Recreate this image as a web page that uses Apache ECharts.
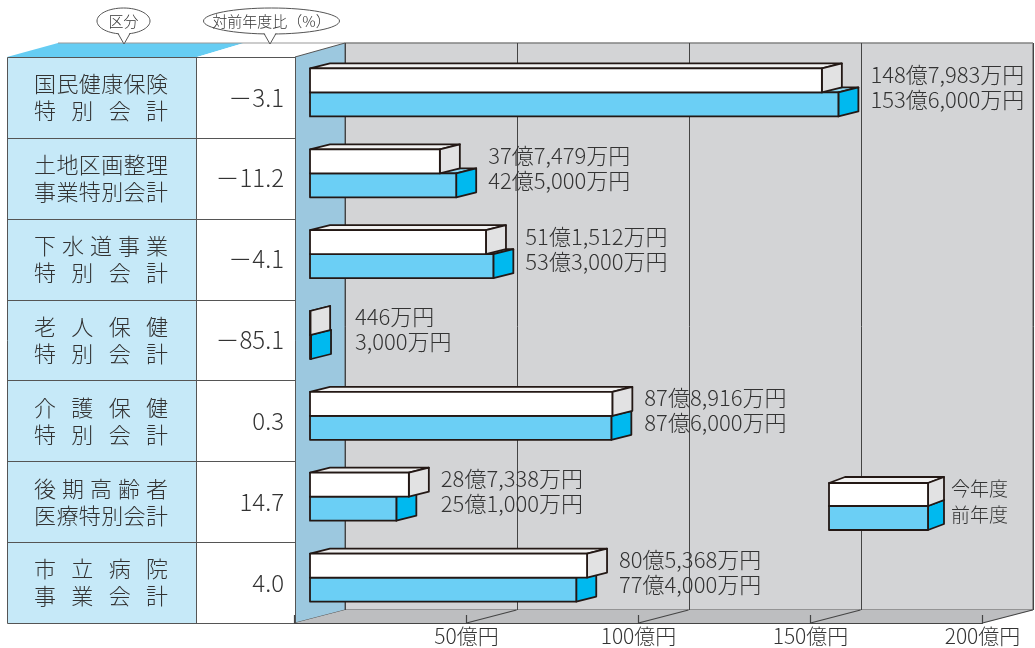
<!DOCTYPE html>
<html><head><meta charset="utf-8">
<script src="https://cdn.jsdelivr.net/npm/echarts@6/dist/echarts.min.js"></script>
<style>html,body{margin:0;padding:0;background:#fff}#c{width:1035px;height:648px}</style>
</head><body><div id="c"></div>
<script>
// ---- data ----
const catLine1 = ['国民健康保険','土地区画整理','下水道事業','老人保健','介護保健','後期高齢者','市立病院'];
const catLine2 = ['特別会計','事業特別会計','特別会計','特別会計','特別会計','医療特別会計','事業会計'];
const currentYear = [1487983, 377479, 511512, 446, 878916, 287338, 805368];   // 万円
const previousYear = [1536000, 425000, 533000, 3000, 876000, 251000, 774000]; // 万円
const changeRate = [-3.1, -11.2, -4.1, -85.1, 0.3, 14.7, 4.0];
const axisTicks = [50, 100, 150, 200];
const axisUnit = '億円';
const legendNames = ['今年度', '前年度'];
const headers = ['区分', '対前年度比（%）'];

// ---- layout/style ----
const FONT = '"Noto Sans CJK JP","Noto Sans",sans-serif';
const FW = 300;
const TXT = '#333333';
const OUT = '#231815';
const LW = 1.8;
const TOP = 57, BOT = 623, NR = catLine1.length, RH = (BOT - TOP) / NR;
const WHITE = ['#ffffff', '#f1f1f1', '#e2e2e3'];
const BLUE = ['#6bcff5', '#8fdaf5', '#00b9ef'];
const DX = 20, DY = -5;

function fmtMan(v) {
  const oku = Math.floor(v / 10000), man = v % 10000;
  const m = man.toLocaleString('en-US');
  return oku > 0 ? oku + '億' + m + '万円' : m + '万円';
}

function box(x0, x1, top, bot, col, dx, dy) {
  const st = (f) => ({ fill: f, stroke: OUT, lineWidth: LW, lineJoin: 'round' });
  return [
    { type: 'polygon', shape: { points: [[x0, top], [x1, top], [x1 + dx, top + dy], [x0 + dx, top + dy]] }, style: st(col[1]) },
    { type: 'polygon', shape: { points: [[x1, top], [x1 + dx, top + dy], [x1 + dx, bot + dy], [x1, bot]] }, style: st(col[2]) },
    { type: 'rect', shape: { x: x0, y: top, width: Math.max(x1 - x0, 0.5), height: bot - top }, style: st(col[0]) }
  ];
}

function barRender(col, dy0, dy1, withLabel) {
  return function (params, api) {
    const v = api.value(0), cat = api.value(1);
    const p0 = api.coord([0, cat]), p1 = api.coord([v, cat]);
    const c = p0[1];
    const children = box(p0[0], p1[0], c + dy0, c + dy1, col, DX, DY);
    if (withLabel) {
      const i = params.dataIndex;
      const mx = Math.max(currentYear[i], previousYear[i]) / 10000;
      const pm = api.coord([mx, cat]);
      const lx = Math.max(pm[0] + DX + 12, p0[0] + 45);
      children.push({ type: 'text', style: { text: fmtMan(currentYear[i]), x: lx, y: c - 23, fill: TXT, fontSize: 22, fontWeight: FW, fontFamily: FONT, align: 'left', verticalAlign: 'middle' } });
      children.push({ type: 'text', style: { text: fmtMan(previousYear[i]), x: lx, y: c + 2, fill: TXT, fontSize: 22, fontWeight: FW, fontFamily: FONT, align: 'left', verticalAlign: 'middle' } });
    }
    return { type: 'group', children };
  };
}

// ---- static graphics (table, walls, bubbles, legend) ----
const g = [];
g.push({ type: 'polygon', z: -1, shape: { points: [[7, TOP], [197, TOP], [244, 43], [58, 43]] }, style: { fill: '#66cdf3' } });
g.push({ type: 'polygon', z: -1, shape: { points: [[197, TOP], [295, TOP], [345, 43], [244, 43]] }, style: { fill: '#ffffff' } });
g.push({ type: 'line', z: -1, shape: { x1: 58, y1: 43, x2: 1033, y2: 43 }, style: { stroke: '#9a9a9a', lineWidth: 1.2 } });
g.push({ type: 'polygon', z: -1, shape: { points: [[295, TOP], [345, 43], [345, 610], [295, BOT]] }, style: { fill: '#9cc8df', stroke: '#555', lineWidth: 1 } });
g.push({ type: 'polygon', z: -1, shape: { points: [[295, BOT], [345, 610], [1033, 610], [983, BOT]] }, style: { fill: '#bdbec0' } });
g.push({ type: 'rect', z: -1, shape: { x: 7, y: TOP, width: 189, height: BOT - TOP }, style: { fill: '#c6e9f8' } });
g.push({ type: 'rect', z: -1, shape: { x: 196, y: TOP, width: 99, height: BOT - TOP }, style: { fill: '#ffffff' } });
for (let i = 1; i < NR; i++) {
  const y = Math.round(TOP + i * RH) + 0.5;
  g.push({ type: 'line', z: 0, shape: { x1: 7, y1: y, x2: 295, y2: y }, style: { stroke: '#555', lineWidth: 1 } });
}
g.push({ type: 'line', z: 0, shape: { x1: 196.5, y1: TOP, x2: 196.5, y2: BOT }, style: { stroke: '#555', lineWidth: 1 } });
g.push({ type: 'rect', z: 0, shape: { x: 7.5, y: TOP + 0.5, width: 288, height: BOT - TOP }, style: { fill: 'none', stroke: '#555', lineWidth: 1 } });
const L = 34, R = 168, FS = 22;
for (let i = 0; i < NR; i++) {
  const c = TOP + (i + 0.5) * RH;
  [catLine1[i], catLine2[i]].forEach((s, k) => {
    const chars = Array.from(s), n = chars.length;
    const y = c + (k === 0 ? -13.5 : 13.5);
    chars.forEach((ch, j) => {
      const x = n > 1 ? (L + FS / 2) + j * ((R - L - FS) / (n - 1)) : (L + R) / 2;
      g.push({ type: 'text', z: 1, style: { text: ch, x, y, fill: TXT, fontSize: FS, fontWeight: FW, fontFamily: FONT, align: 'center', verticalAlign: 'middle' } });
    });
  });
  const r = changeRate[i];
  const t = (r < 0 ? '－' : '') + Math.abs(r).toFixed(1);
  g.push({ type: 'text', z: 1, style: { text: t, x: 284, y: c, fill: TXT, fontSize: 24, fontWeight: FW, fontFamily: FONT, align: 'right', verticalAlign: 'middle' } });
}
function bubble(cx, rx, tailX, text) {
  g.push({ type: 'ellipse', z: 2, shape: { cx, cy: 21, rx, ry: 13 }, style: { fill: '#fff', stroke: '#555', lineWidth: 1 } });
  g.push({ type: 'polygon', z: 3, shape: { points: [[tailX - 6, 32], [tailX, 44], [tailX + 6, 32]] }, style: { fill: '#fff' } });
  g.push({ type: 'polyline', z: 3, shape: { points: [[tailX - 6, 33.5], [tailX, 44], [tailX + 6, 33.5]] }, style: { stroke: '#555', lineWidth: 1, fill: 'none' } });
  g.push({ type: 'text', z: 4, style: { text, x: cx, y: 21, fill: TXT, fontSize: 15, fontWeight: FW, fontFamily: FONT, align: 'center', verticalAlign: 'middle' } });
}
bubble(123.5, 26.5, 124, headers[0]);
bubble(271.5, 68, 270, headers[1]);
const lgX0 = 829, lgX1 = 928;
box(lgX0, lgX1, 506, 530, BLUE, 16, -6).forEach(e => { e.z = 5; g.push(e); });
box(lgX0, lgX1, 483, 506, WHITE, 16, -6).forEach(e => { e.z = 6; g.push(e); });
g.push({ type: 'text', z: 7, style: { text: legendNames[0], x: 951, y: 489, fill: TXT, fontSize: 19, fontWeight: FW, fontFamily: FONT, align: 'left', verticalAlign: 'middle' } });
g.push({ type: 'text', z: 7, style: { text: legendNames[1], x: 951, y: 515, fill: TXT, fontSize: 19, fontWeight: FW, fontFamily: FONT, align: 'left', verticalAlign: 'middle' } });

const chart = echarts.init(document.getElementById('c'), null, { renderer: 'canvas' });
chart.setOption({
  animation: false,
  backgroundColor: '#ffffff',
  graphic: g,
  grid: [
    { left: 310, width: 688, top: TOP, height: BOT - TOP },
    { left: 345, width: 688, top: 43, height: 567, show: true, backgroundColor: '#d3d4d6', borderColor: '#555', borderWidth: 1, z: -2 },
    { left: 294.5, width: 688, top: BOT - 1, height: 1 }
  ],
  xAxis: [
    { gridIndex: 0, type: 'value', min: 0, max: 200, show: false },
    { gridIndex: 1, type: 'value', min: 0, max: 200, interval: 50, axisLine: { show: false }, axisTick: { show: false }, axisLabel: { show: false }, splitLine: { show: true, lineStyle: { color: '#444', width: 1 } } },
    { gridIndex: 2, type: 'value', min: 0, max: 200, interval: 50, position: 'bottom',
      axisLine: { show: true, lineStyle: { color: '#444', width: 1.2 } },
      axisTick: { show: true, inside: true, length: 8, lineStyle: { color: '#444', width: 1.2 } },
      axisLabel: { show: true, margin: 3, color: TXT, fontSize: 21, fontWeight: FW, fontFamily: FONT, formatter: v => axisTicks.indexOf(v) >= 0 ? v + axisUnit : '' },
      splitLine: { show: false } }
  ],
  yAxis: [
    { gridIndex: 0, type: 'category', data: catLine1, inverse: true, show: false },
    { gridIndex: 1, type: 'value', show: false, min: 0, max: 1 },
    { gridIndex: 2, type: 'value', show: false, min: 0, max: 1 }
  ],
  series: [
    { type: 'custom', name: legendNames[1], xAxisIndex: 0, yAxisIndex: 0, z: 10,
      data: previousYear.map((v, i) => [v / 10000, i]), encode: { x: 0, y: 1 },
      renderItem: barRender(BLUE, -5, 19, false) },
    { type: 'custom', name: legendNames[0], xAxisIndex: 0, yAxisIndex: 0, z: 11,
      data: currentYear.map((v, i) => [v / 10000, i]), encode: { x: 0, y: 1 },
      renderItem: barRender(WHITE, -29, -5, true) },
    { type: 'custom', xAxisIndex: 2, yAxisIndex: 2, z: 3,
      data: axisTicks.map(v => [v, 0]), encode: { x: 0, y: 1 },
      renderItem: function (params, api) {
        const p = api.coord([api.value(0), 0]);
        return { type: 'line', shape: { x1: p[0], y1: BOT, x2: p[0] + 50, y2: 610 }, style: { stroke: '#444', lineWidth: 1.2 } };
      } }
  ]
});
</script></body></html>
